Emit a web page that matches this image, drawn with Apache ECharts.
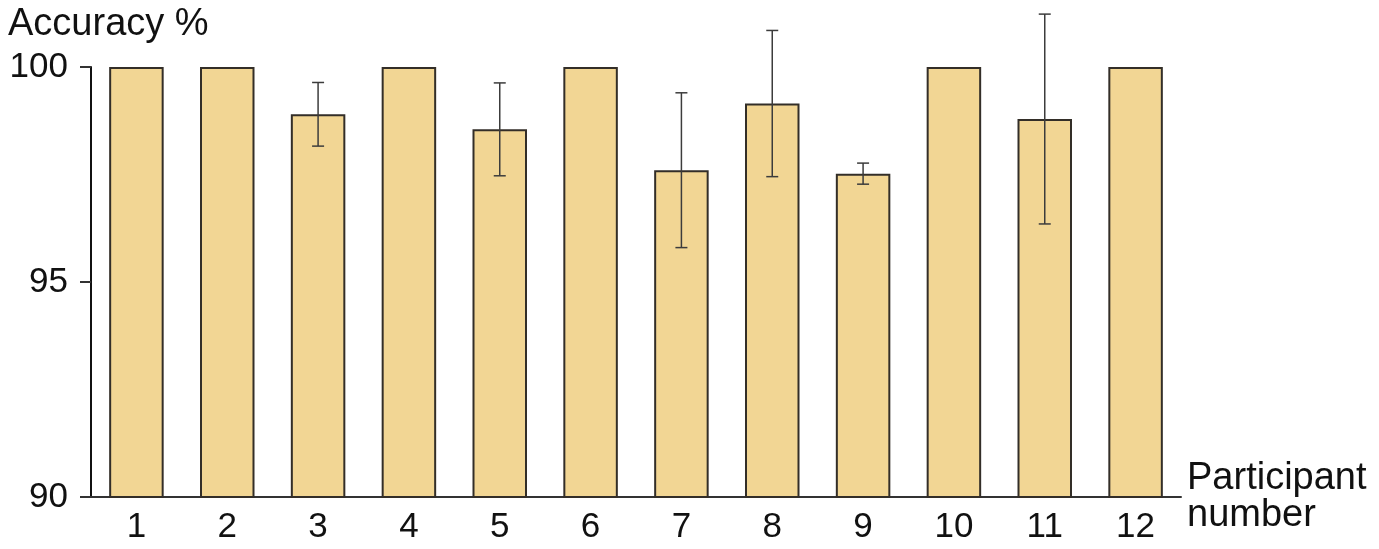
<!DOCTYPE html>
<html>
<head>
<meta charset="utf-8">
<title>Accuracy per participant</title>
<script src="https://cdn.jsdelivr.net/npm/echarts@6/dist/echarts.min.js"></script>
<style>
  html, body { margin: 0; padding: 0; background: #fff; }
  #chart { width: 1379px; height: 549px; }
</style>
</head>
<body>
<div id="chart"></div>
<script>
// participants on the x axis
var participants = ['1', '2', '3', '4', '5', '6', '7', '8', '9', '10', '11', '12'];
// mean accuracy (%) per participant
var accuracy = [100, 100, 98.9, 100, 98.55, 100, 97.6, 99.15, 97.52, 100, 98.79, 100];
// standard deviation (error bars), 0 = no bar
var accuracySd = [0, 0, 0.74, 0, 1.08, 0, 1.8, 1.7, 0.245, 0, 2.44, 0];
// y axis ticks
var yTicks = [90, 95, 100];

var errorData = [];
for (var i = 0; i < participants.length; i++) {
  if (accuracySd[i] > 0) {
    errorData.push([i, accuracy[i] - accuracySd[i], accuracy[i] + accuracySd[i]]);
  }
}

var fontFamily = 'Liberation Sans, Arial, sans-serif';
var chart = echarts.init(document.getElementById('chart'));

var option = {
  animation: false,
  title: {
    text: 'Accuracy %',
    left: 3,
    top: 1,
    textStyle: { fontFamily: fontFamily, fontSize: 38, fontWeight: 'normal', color: '#111' }
  },
  grid: { left: 91, right: 198, top: 67, bottom: 52 },
  xAxis: {
    type: 'category',
    data: participants,
    name: 'Participant\nnumber',
    nameLocation: 'end',
    nameGap: 6,
    nameTextStyle: { fontFamily: fontFamily, fontSize: 38, color: '#111', lineHeight: 37, align: 'left', verticalAlign: 'middle', padding: [16, 0, 0, 0] },
    axisLine: { lineStyle: { color: '#333', width: 2 } },
    axisTick: { show: false },
    axisLabel: { fontFamily: fontFamily, fontSize: 35, color: '#111', margin: 13 }
  },
  yAxis: {
    type: 'value',
    min: yTicks[0],
    max: yTicks[yTicks.length - 1],
    interval: yTicks[1] - yTicks[0],
    axisLine: { show: true, lineStyle: { color: '#111', width: 2 } },
    axisTick: { show: true, length: 11, lineStyle: { color: '#333', width: 2 } },
    axisLabel: { fontFamily: fontFamily, fontSize: 35, color: '#111', margin: 23 },
    splitLine: { show: false }
  },
  series: [
    {
      type: 'bar',
      data: accuracy,
      barWidth: '60%',
      itemStyle: { color: '#F2D694', borderColor: '#332e28', borderWidth: 2 }
    },
    {
      type: 'custom',
      clip: false,
      z: 5,
      data: errorData,
      renderItem: function (params, api) {
        var x = api.value(0);
        var low = api.coord([x, api.value(1)]);
        var high = api.coord([x, api.value(2)]);
        var half = 6;
        var style = { stroke: '#3c3c3c', lineWidth: 1.5 };
        return {
          type: 'group',
          children: [
            { type: 'line', shape: { x1: high[0], y1: high[1], x2: low[0], y2: low[1] }, style: style },
            { type: 'line', shape: { x1: high[0] - half, y1: high[1], x2: high[0] + half, y2: high[1] }, style: style },
            { type: 'line', shape: { x1: low[0] - half, y1: low[1], x2: low[0] + half, y2: low[1] }, style: style }
          ]
        };
      }
    }
  ]
};

chart.setOption(option);
</script>
</body>
</html>
